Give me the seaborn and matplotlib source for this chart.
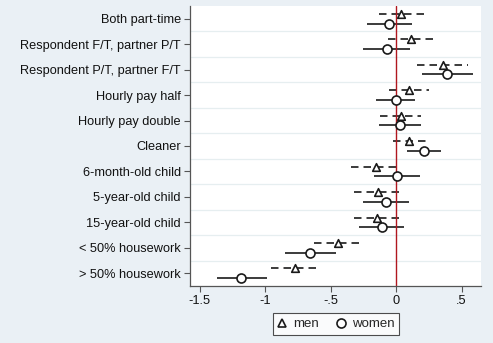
import numpy as np
import pandas as pd
import matplotlib
matplotlib.use("Agg")
import matplotlib.pyplot as plt
import seaborn as sns
from matplotlib.lines import Line2D

categories = ["Both part-time", "Respondent F/T, partner P/T", "Respondent P/T, partner F/T",
              "Hourly pay half", "Hourly pay double", "Cleaner", "6-month-old child",
              "5-year-old child", "15-year-old child", "< 50% housework", "> 50% housework"]
men_est = [0.04, 0.115, 0.355, 0.10, 0.04, 0.10, -0.15, -0.137, -0.145, -0.44, -0.77]
men_lo = [-0.13, -0.06, 0.16, -0.053, -0.12, -0.02, -0.34, -0.32, -0.32, -0.63, -0.955]
men_hi = [0.22, 0.30, 0.547, 0.25, 0.19, 0.23, 0.035, 0.046, 0.025, -0.25, -0.59]
women_est = [-0.05, -0.07, 0.39, 0.0, 0.03, 0.21, 0.005, -0.074, -0.11, -0.66, -1.18]
women_lo = [-0.22, -0.25, 0.198, -0.15, -0.13, 0.087, -0.17, -0.25, -0.28, -0.85, -1.37]
women_hi = [0.125, 0.107, 0.588, 0.145, 0.19, 0.34, 0.18, 0.10, 0.06, -0.46, -0.985]
xticks = [-1.5, -1, -0.5, 0, 0.5]
xticklabels = ["-1.5", "-1", "-.5", "0", ".5"]

sns.set_style("white")
plt.rcParams['font.family'] = ['Liberation Sans', 'DejaVu Sans']

bg = "#eaf0f5"
fs = 9.2
fig = plt.figure(figsize=(4.93, 3.43), dpi=100, facecolor=bg)
ax = fig.add_axes([0.3854, 0.1662, 0.5903, 0.8163])
ax.set_facecolor("white")

idx = np.arange(len(categories))
off = 0.19
df = pd.DataFrame({
    "y": np.concatenate([idx - off, idx + off]),
    "est": men_est + women_est,
    "lo": men_lo + women_lo,
    "hi": men_hi + women_hi,
    "group": ["men"] * len(categories) + ["women"] * len(categories),
})

# gridlines between categories
for g in idx[:-1] + 0.5:
    ax.axhline(g, color="#e6eef0", lw=0.9, zorder=0)

m = df[df.group == "men"]
w = df[df.group == "women"]
ax.hlines(m.y, m.lo, m.hi, color="#1a1a1a", lw=1.2, linestyles=(0, (4.5, 3)), zorder=2)
ax.hlines(w.y, w.lo, w.hi, color="#1a1a1a", lw=1.2, zorder=2)

ax.axvline(0, color="#b0171f", lw=1.0, zorder=2.5)

sns.scatterplot(data=m, x="est", y="y", marker="^", s=30, facecolor="white",
                edgecolor="#1a1a1a", linewidth=1.2, ax=ax, zorder=3, legend=False)
sns.scatterplot(data=w, x="est", y="y", marker="o", s=42, facecolor="white",
                edgecolor="#1a1a1a", linewidth=1.2, ax=ax, zorder=3, legend=False)

ax.set_ylim(len(categories) - 0.5, -0.5)
ax.set_xlim(-1.573, 0.649)
ax.set_yticks(idx)
ax.set_yticklabels(categories, fontsize=fs)
ax.set_xticks(xticks)
ax.set_xticklabels(xticklabels, fontsize=fs)
ax.set_xlabel("")
ax.set_ylabel("")
for s in ["top", "right"]:
    ax.spines[s].set_visible(False)
for s in ["left", "bottom"]:
    ax.spines[s].set_color("#555555")
    ax.spines[s].set_linewidth(0.9)
ax.tick_params(axis="both", direction="out", length=4.5, width=0.8, color="#555555",
               labelcolor="#111111", pad=2, left=True, bottom=True)

handles = [Line2D([], [], marker="^", ls="none", mfc="white", mec="#1a1a1a", mew=1.2, ms=5.5),
           Line2D([], [], marker="o", ls="none", mfc="white", mec="#1a1a1a", mew=1.2, ms=6.5)]
leg = fig.legend(handles, ["men", "women"], loc="center", bbox_to_anchor=(0.681, 0.055),
                 ncol=2, fontsize=fs + 0.3, frameon=True, fancybox=False, edgecolor="#222222",
                 handletextpad=0.4, columnspacing=1.3, borderpad=0.35, handlelength=0.8)
leg.get_frame().set_linewidth(0.8)

fig.savefig("out.png", dpi=100, facecolor=bg)
